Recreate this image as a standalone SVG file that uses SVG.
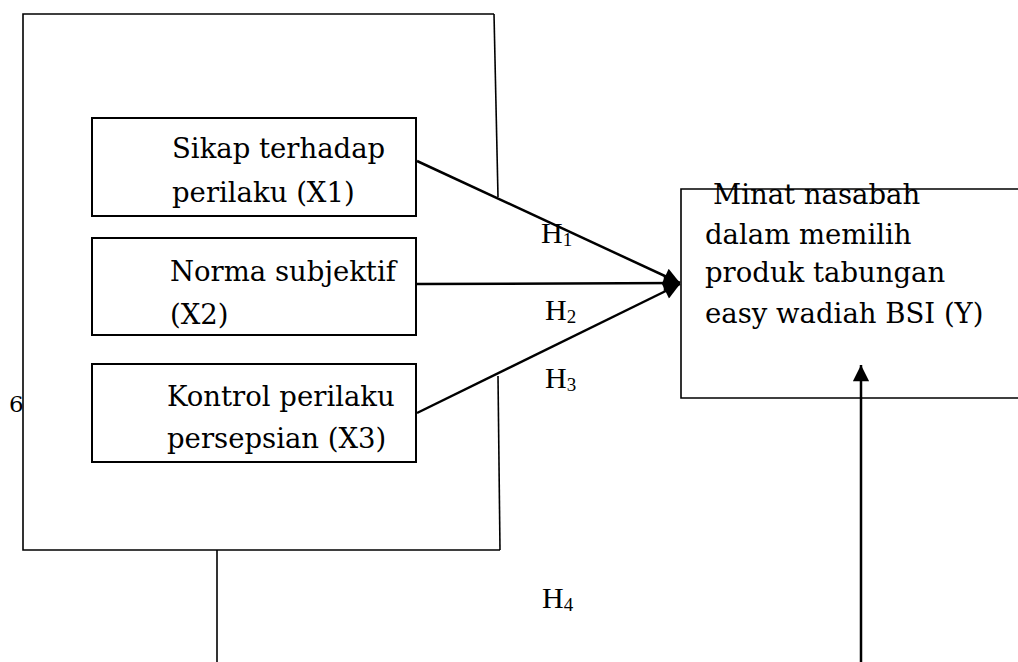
<svg xmlns="http://www.w3.org/2000/svg" width="1018" height="662" viewBox="0 0 1018 662">
<style>
.ln{stroke:#000;stroke-width:1.6;fill:none}
.bx{stroke:#000;stroke-width:2;fill:#fff}
.ar{stroke:#000;stroke-width:2.5;fill:none}
.t{font-family:"DejaVu Serif","Liberation Serif",serif;font-size:27.5px;fill:#000}
.h{font-family:"Liberation Serif",serif;font-size:30px;fill:#000}
.s{font-size:19px}
</style>
<defs>
<marker id="ah" viewBox="0 0 10 10" refX="10" refY="5" markerWidth="7" markerHeight="6.5" markerUnits="strokeWidth" orient="auto"><path d="M0,0 L10,5 L0,10 Z" fill="#000"/></marker>
</defs>
<g id="outer">
<path class="ln" d="M494,14 L23,14 L23,550 L500,550"/>
<path class="ln" d="M494,14 L498,197"/>
<path class="ln" d="M498,376 L500,550"/>
</g>
<g id="x1">
<rect class="bx" x="92" y="118" width="324" height="98"/>
<text class="t" x="172" y="158">Sikap terhadap</text>
<text class="t" x="172" y="202">perilaku (X1)</text>
</g>
<g id="x2">
<rect class="bx" x="92" y="238" width="324" height="97"/>
<text class="t" x="170" y="281">Norma subjektif</text>
<text class="t" x="170" y="324">(X2)</text>
</g>
<g id="x3">
<rect class="bx" x="92" y="364" width="324" height="98"/>
<text class="t" x="167" y="406">Kontrol perilaku</text>
<text class="t" x="167" y="448">persepsian (X3)</text>
</g>
<g id="y">
<path class="ln" d="M1018,189 L681,189 L681,398 L1018,398"/>
<text class="t" x="713" y="204">Minat nasabah</text>
<text class="t" x="705" y="244">dalam memilih</text>
<text class="t" x="705" y="282">produk tabungan</text>
<text class="t" x="705" y="323">easy wadiah BSI (Y)</text>
</g>
<g id="connectors">
<line class="ar" x1="417" y1="161" x2="680" y2="283" marker-end="url(#ah)"/>
<line class="ar" x1="416" y1="284" x2="680" y2="283" marker-end="url(#ah)"/>
<line class="ar" x1="417" y1="413" x2="680" y2="284" marker-end="url(#ah)"/>
<line class="ln" x1="217" y1="550" x2="217" y2="662"/>
<line class="ar" x1="861" y1="662" x2="861" y2="365" marker-end="url(#ah)"/>
</g>
<g id="labels">
<text class="h" x="541" y="243">H<tspan class="s" dy="3">1</tspan></text>
<text class="h" x="545" y="320">H<tspan class="s" dy="3">2</tspan></text>
<text class="h" x="545" y="388">H<tspan class="s" dy="3">3</tspan></text>
<text class="h" x="542" y="608">H<tspan class="s" dy="3">4</tspan></text>
<text class="t" x="9" y="412" style="font-size:23px">6</text>
</g>
</svg>
